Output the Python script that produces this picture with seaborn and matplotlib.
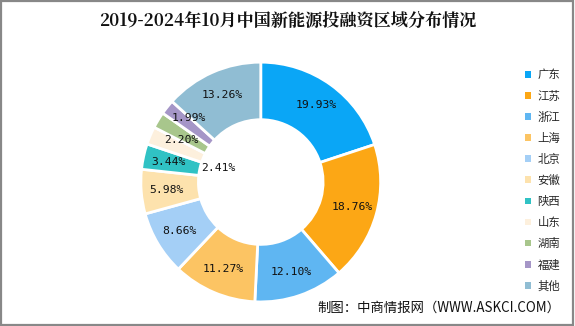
import matplotlib
matplotlib.use("Agg")
import matplotlib.pyplot as plt
import matplotlib.patches as mpatches
import seaborn as sns
import numpy as np

sns.set_theme(style="white")
plt.rcParams["font.family"] = ["Noto Sans CJK SC", "DejaVu Sans"]

# 2019-2024年10月 新能源投融资区域分布（%）
regions = ["广东", "江苏", "浙江", "上海", "北京", "安徽", "陕西", "山东", "湖南", "福建", "其他"]
shares = [19.93, 18.76, 12.10, 11.27, 8.66, 5.98, 3.44, 2.41, 2.20, 1.99, 13.26]
colors = ["#0aa6f6", "#fca715", "#5fb6f2", "#fcc463", "#a4cff6", "#fde2ad",
          "#30c2c4", "#fdf0dd", "#a8c68c", "#a596c7", "#90bdd3"]

fig = plt.figure(figsize=(5.75, 3.26), dpi=100)
fig.patch.set_facecolor("white")
ax = fig.add_axes([0.245, 0.0736, 0.417, 0.736])

wedges, texts, autotexts = ax.pie(
    shares, colors=colors, startangle=90, counterclock=False,
    radius=1.0, pctdistance=0.79,
    autopct=lambda p: f"{p:.2f}%",
    wedgeprops=dict(width=0.48, edgecolor="white", linewidth=2),
    textprops=dict(family="DejaVu Sans Mono", fontsize=8.2, color="#111111"),
)
ax.set_xlim(-1, 1)
ax.set_ylim(-1, 1)
ax.set_aspect("equal")


def nudge(name, radius, dang):
    t = autotexts[regions.index(name)]
    x, y = t.get_position()
    a = np.arctan2(y, x) + np.deg2rad(dang)
    t.set_position((radius * np.cos(a), radius * np.sin(a)))


# small slices on the left: spread their labels apart
nudge("山东", 0.37, 5)
nudge("湖南", 0.75, 3)
nudge("福建", 0.80, -3)

for t, v in zip(autotexts, shares):
    t.set_text(f"{v:.2f}%")

fig.text(0.5, 0.935, "2019-2024年10月中国新能源投融资区域分布情况",
         ha="center", va="center", fontsize=12.3, fontweight="bold",
         family=["Noto Serif CJK SC", "Noto Sans CJK SC", "DejaVu Sans"], color="#111111")

handles = [mpatches.Patch(facecolor=c, edgecolor="none") for c in colors]
leg = fig.legend(handles, regions, loc="upper left", bbox_to_anchor=(0.905, 0.8),
                 frameon=False, fontsize=8.2, handlelength=0.5, handleheight=0.5,
                 handletextpad=0.6, labelspacing=0.88, borderaxespad=0)

fig.text(0.974, 0.057, "制图：中商情报网（WWW.ASKCI.COM）", ha="right", va="center",
         fontsize=9.6, color="#111111")

# thin grey frame around the figure
fig.add_artist(mpatches.Rectangle((0.002, 0.003), 0.994, 0.993, transform=fig.transFigure,
                                  fill=False, edgecolor="#888888", linewidth=1.6))

fig.savefig("out.png", dpi=100, facecolor="white")
